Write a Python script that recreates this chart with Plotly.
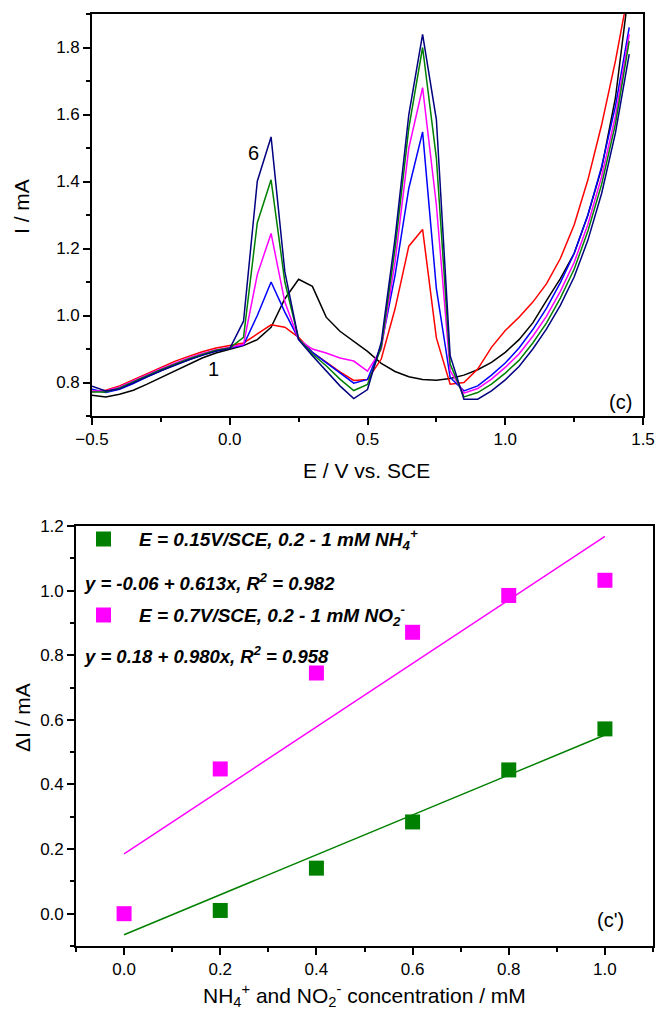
import plotly.graph_objects as go

# ---------------- data: top panel (voltammograms) ----------------
E_V = [-0.50, -0.45, -0.40, -0.35, -0.30, -0.25, -0.20, -0.15, -0.10, -0.05,
       0.00, 0.05, 0.10, 0.15, 0.20, 0.25, 0.30, 0.35, 0.40, 0.45,
       0.50, 0.55, 0.60, 0.65, 0.70, 0.75, 0.80, 0.85, 0.90, 0.95,
       1.00, 1.05, 1.10, 1.15, 1.20, 1.25, 1.30, 1.35, 1.40, 1.45]

curve1_black = [0.762, 0.757, 0.765, 0.777, 0.795, 0.815, 0.835, 0.855, 0.873, 0.888,
                0.900, 0.910, 0.928, 0.965, 1.050, 1.108, 1.087, 0.995, 0.953, 0.923,
                0.893, 0.857, 0.833, 0.817, 0.809, 0.807, 0.812, 0.822, 0.838, 0.860,
                0.890, 0.928, 0.978, 1.045, 1.110, 1.185, 1.300, 1.440, 1.650, 1.980]
curve2_red = [0.772, 0.777, 0.790, 0.808, 0.828, 0.846, 0.863, 0.878, 0.892, 0.903,
              0.910, 0.918, 0.945, 0.972, 0.965, 0.935, 0.890, 0.860, 0.832, 0.806,
              0.809, 0.870, 1.020, 1.207, 1.257, 0.933, 0.795, 0.800, 0.840, 0.905,
              0.955, 0.995, 1.040, 1.095, 1.170, 1.270, 1.405, 1.570, 1.760, 1.980]
curve3_blue = [0.780, 0.770, 0.780, 0.797, 0.817, 0.836, 0.853, 0.868, 0.883, 0.895,
               0.903, 0.912, 1.000, 1.100, 1.010, 0.930, 0.890, 0.860, 0.830, 0.798,
               0.809, 0.910, 1.120, 1.380, 1.548, 1.080, 0.815, 0.775, 0.790, 0.822,
               0.858, 0.903, 0.958, 1.022, 1.098, 1.185, 1.300, 1.445, 1.625, 1.860]
curve4_magenta = [0.775, 0.775, 0.787, 0.804, 0.823, 0.841, 0.858, 0.873, 0.887, 0.898,
                  0.905, 0.914, 1.122, 1.245, 1.040, 0.928, 0.900, 0.888, 0.873, 0.864,
                  0.834, 0.899, 1.160, 1.500, 1.680, 1.330, 0.835, 0.768, 0.782, 0.810,
                  0.845, 0.885, 0.938, 0.998, 1.072, 1.158, 1.272, 1.415, 1.595, 1.840]
curve5_green = [0.772, 0.772, 0.784, 0.801, 0.820, 0.838, 0.855, 0.870, 0.884, 0.896,
                0.903, 0.935, 1.277, 1.405, 1.100, 0.930, 0.885, 0.850, 0.810, 0.776,
                0.794, 0.905, 1.200, 1.560, 1.800, 1.470, 0.855, 0.757, 0.770, 0.795,
                0.828, 0.866, 0.918, 0.978, 1.052, 1.138, 1.252, 1.392, 1.572, 1.820]
curve6_navy = [0.789, 0.775, 0.781, 0.798, 0.817, 0.835, 0.852, 0.867, 0.881, 0.893,
               0.901, 0.983, 1.401, 1.533, 1.130, 0.928, 0.880, 0.835, 0.790, 0.752,
               0.779, 0.920, 1.230, 1.600, 1.839, 1.585, 0.880, 0.750, 0.750, 0.775,
               0.808, 0.848, 0.900, 0.960, 1.030, 1.115, 1.225, 1.365, 1.545, 1.780]

curve_colors = ["#000000", "#FF0000", "#0000FF", "#FF00FF", "#008000", "#000080"]

# ---------------- data: bottom panel (calibration) ----------------
nh4_conc = [0.2, 0.4, 0.6, 0.8, 1.0]
dI_nh4 = [0.010, 0.141, 0.284, 0.445, 0.572]
no2_conc = [0.0, 0.2, 0.4, 0.6, 0.8, 1.0]
dI_no2 = [0.000, 0.448, 0.745, 0.871, 0.985, 1.032]
fit_x = [0.0, 1.0]
fit_nh4 = [-0.065, 0.553]
fit_no2 = [0.185, 1.168]

legend_nh4 = "<b><i>E = 0.15V/SCE, 0.2 - 1 mM NH<sub>4</sub><sup>+</sup></i></b>"
eq_nh4 = "<b><i>y = -0.06 + 0.613x, R<sup>2</sup> = 0.982</i></b>"
legend_no2 = "<b><i>E = 0.7V/SCE, 0.2 - 1 mM NO<sub>2</sub><sup>-</sup></i></b>"
eq_no2 = "<b><i>y = 0.18 + 0.980x, R<sup>2</sup> = 0.958</i></b>"

# ---------------- figure ----------------
W, H = 655, 1009
FONT = "Liberation Sans, Arial, sans-serif"


def px(x):
    return x / W


def py(y):
    return 1 - y / H


fig = go.Figure()

for ys, col in zip([curve1_black, curve2_red, curve3_blue, curve4_magenta,
                    curve5_green, curve6_navy], curve_colors):
    fig.add_trace(go.Scatter(x=E_V, y=ys, mode="lines",
                             line=dict(color=col, width=1.5),
                             xaxis="x", yaxis="y", showlegend=False))

fig.add_trace(go.Scatter(x=fit_x, y=fit_no2, mode="lines",
                         line=dict(color="#FF00FF", width=1.5),
                         xaxis="x2", yaxis="y2", showlegend=False))
fig.add_trace(go.Scatter(x=fit_x, y=fit_nh4, mode="lines",
                         line=dict(color="#008000", width=1.5),
                         xaxis="x2", yaxis="y2", showlegend=False))
fig.add_trace(go.Scatter(x=no2_conc, y=dI_no2, mode="markers",
                         marker=dict(symbol="square", size=15, color="#FF00FF",
                                     line=dict(width=0)),
                         xaxis="x2", yaxis="y2", showlegend=False))
fig.add_trace(go.Scatter(x=nh4_conc, y=dI_nh4, mode="markers",
                         marker=dict(symbol="square", size=15, color="#008000",
                                     line=dict(width=0)),
                         xaxis="x2", yaxis="y2", showlegend=False))

axis_common = dict(showline=True, linecolor="black", linewidth=1.6, mirror=True,
                   ticks="outside", ticklen=7, tickwidth=1.5, tickcolor="black",
                   showgrid=False, zeroline=False, automargin=False,
                   tickfont=dict(family=FONT, size=17, color="black"))
minor_common = dict(ticks="outside", ticklen=4, tickwidth=1.5,
                    tickcolor="black", showgrid=False)

fig.update_layout(
    width=W, height=H, autosize=False,
    margin=dict(l=0, r=0, t=0, b=0),
    paper_bgcolor="white", plot_bgcolor="white",
    font=dict(family=FONT, color="black"),
    xaxis=dict(domain=[px(92), px(643)], range=[-0.5, 1.5], dtick=0.5,
               tickformat=".1f", anchor="y",
               minor=dict(dtick=0.25, **minor_common), **axis_common),
    yaxis=dict(domain=[py(416), py(14)], range=[0.7, 1.9], dtick=0.2,
               tickformat=".1f", anchor="x",
               minor=dict(dtick=0.1, **minor_common), **axis_common),
    xaxis2=dict(domain=[px(76), px(653)], range=[-0.1, 1.1], dtick=0.2,
                tickformat=".1f", anchor="y2",
                minor=dict(dtick=0.1, **minor_common), **axis_common),
    yaxis2=dict(domain=[py(946), py(526)], range=[-0.1, 1.2], dtick=0.2,
                tickformat=".1f", anchor="x2",
                minor=dict(dtick=0.1, **minor_common), **axis_common),
)

ann = []


def add_text(text, x, y, size, xanchor="center", angle=0):
    ann.append(dict(text=text, x=px(x), y=py(y), xref="paper", yref="paper",
                    xanchor=xanchor, yanchor="middle", showarrow=False,
                    textangle=angle,
                    font=dict(family=FONT, size=size, color="black")))


# axis titles
add_text("E / V vs. SCE", 367, 470, 21)
add_text("I / mA", 22, 207, 21, angle=-90)
add_text("ΔI / mA", 22, 718, 21, angle=-90)
add_text("NH<sub>4</sub><sup>+</sup> and NO<sub>2</sub><sup>-</sup> concentration / mM",
         364, 995, 21)
# panel labels and curve labels
add_text("(c)", 620, 402, 20)
add_text("(c')", 610, 920, 20)
add_text("6", 253, 153, 20)
add_text("1", 213, 369, 20)
# legend of bottom panel
add_text(legend_nh4, 137, 539, 19, xanchor="left")
add_text(eq_nh4, 82, 582, 18.5, xanchor="left")
add_text(legend_no2, 137, 615, 19, xanchor="left")
add_text(eq_no2, 82, 655, 18.5, xanchor="left")

fig.update_layout(annotations=ann)

shapes = []
for cy, col in [(539, "#008000"), (615, "#FF00FF")]:
    shapes.append(dict(type="rect", xref="paper", yref="paper",
                       x0=px(96), x1=px(111), y0=py(cy + 7.5), y1=py(cy - 7.5),
                       fillcolor=col, line=dict(width=0)))
fig.update_layout(shapes=shapes)

fig.write_html("out.html")
